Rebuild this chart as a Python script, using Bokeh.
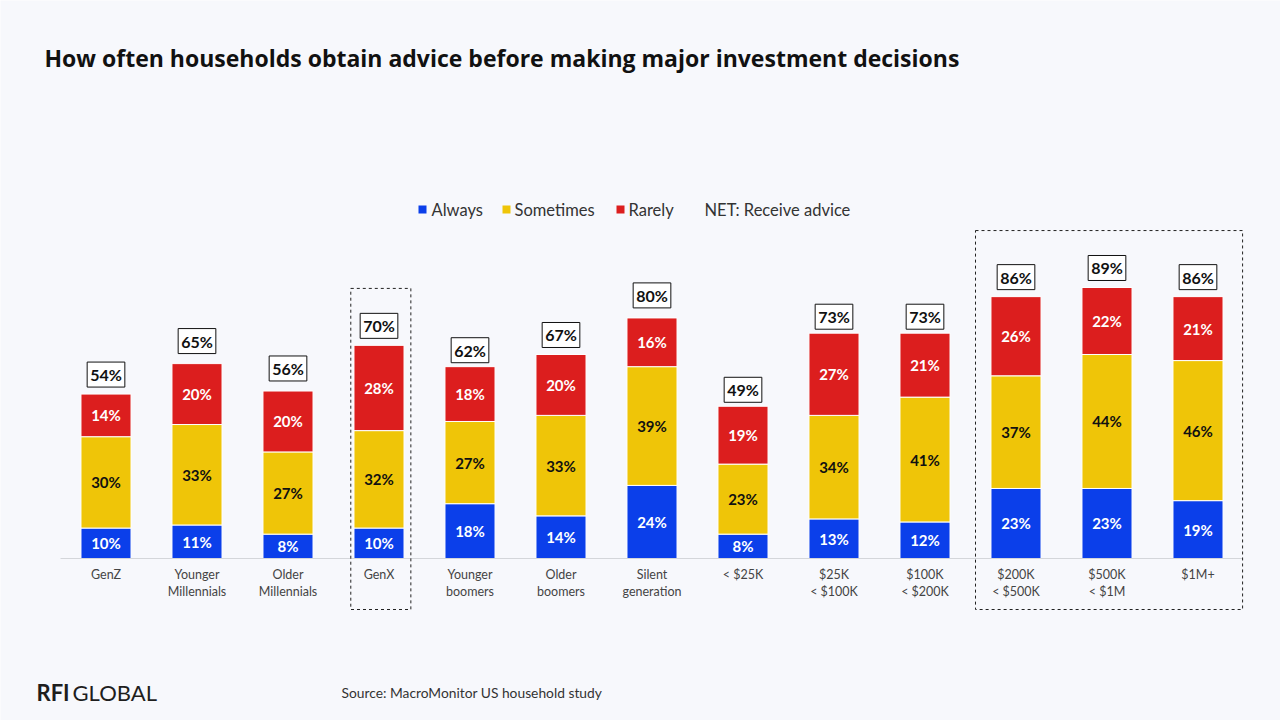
from bokeh.plotting import figure
from bokeh.models import ColumnDataSource, Range1d
from bokeh.core.properties import value
from bokeh.embed import file_html
from bokeh.resources import INLINE

# ---- data -------------------------------------------------------------
categories = ["GenZ", "Younger\nMillennials", "Older\nMillennials", "GenX",
              "Younger\nboomers", "Older\nboomers", "Silent\ngeneration",
              "< $25K", "$25K\n< $100K", "$100K\n< $200K",
              "$200K\n< $500K", "$500K\n< $1M", "$1M+"]
always = [10, 11, 8, 10, 18, 14, 24, 8, 13, 12, 23, 23, 19]
sometimes = [30, 33, 27, 32, 27, 33, 39, 23, 34, 41, 37, 44, 46]
rarely = [14, 20, 20, 28, 18, 20, 16, 19, 27, 21, 26, 22, 21]
net = [54, 65, 56, 70, 62, 67, 80, 49, 73, 73, 86, 89, 86]
series = ["Always", "Sometimes", "Rarely"]
highlight_groups = [[3], [10, 11, 12]]

# ---- styling ----------------------------------------------------------
BG = "#F7F8FC"
BLUE, YELLOW, RED = "#0B3FEA", "#EFC508", "#DC1E1E"
FONT = "Lato"
W, H = 1280, 720

# page geometry: the frame fills the page; x is the category index,
# y is the percentage value
X0, DX = 105.5, 91.0          # pixel centre of first bar, bar spacing
Y0, DY = 558.0, 3.045         # pixel baseline, pixels per percentage point


def px_x(px):
    return (px - X0) / DX


def px_y(py):
    return (Y0 - py) / DY


p = figure(width=W, height=H, output_backend="svg", toolbar_location=None,
           x_range=Range1d(px_x(0), px_x(W)), y_range=Range1d(px_y(H), px_y(0)),
           min_border=0, border_fill_color=BG, background_fill_color=BG)
p.axis.visible = False
p.grid.visible = False
p.outline_line_color = None

idx = list(range(len(categories)))
src = ColumnDataSource(dict(
    x=idx, Always=always, Sometimes=sometimes, Rarely=rarely, net=net,
    net_label=[f"{v}%" for v in net],
))

# stacked bars
p.vbar_stack(series, x="x", width=0.55, source=src,
             color=[BLUE, YELLOW, RED], line_color="white", line_width=1)

# segment labels
for vals, below, col in [(always, [0] * len(idx), "white"),
                         (sometimes, always, "#111111"),
                         (rarely, [a + s for a, s in zip(always, sometimes)], "white")]:
    p.text(x=idx, y=[b + v / 2 for b, v in zip(below, vals)],
           text=[f"{v}%" for v in vals], text_align="center",
           text_baseline="middle", text_font=value(FONT),
           text_font_style="bold", text_font_size="15px", text_color=col)

# NET labels in white boxes
p.text(x="x", y="net", text="net_label", source=src, text_align="center",
       text_baseline="bottom", y_offset=-7, text_font=value(FONT),
       text_font_style="bold", text_font_size="16px", text_color="#111111",
       background_fill_color="white", border_line_color="#111111",
       border_line_width=1, padding=3)

# baseline
p.segment(x0=[px_x(60)], x1=[px_x(1242)], y0=[0], y1=[0],
          line_color="#D4D6DA", line_width=1)

# category labels
p.text(x=idx, y=[px_y(566)] * len(idx), text=categories, text_align="center",
       text_baseline="top", text_font=value(FONT), text_font_size="12.5px",
       text_color="#444444", text_line_height=1.15)

# dashed highlight boxes
for grp in highlight_groups:
    top = max(net[i] for i in grp) + 18.7
    p.quad(left=[grp[0] - 0.31 if len(grp) == 1 else grp[0] - 0.445],
           right=[grp[-1] + 0.35 if len(grp) == 1 else grp[-1] + 0.49],
           top=[top], bottom=[px_y(609)], fill_alpha=0,
           line_color="#222222", line_width=1, line_dash="3 3")

# legend
leg_y = px_y(209)
for sq_px, txt_px, col, lab in [(422, 431, BLUE, "Always"),
                                (506, 514, YELLOW, "Sometimes"),
                                (620, 628, RED, "Rarely")]:
    p.scatter(x=[px_x(sq_px)], y=[leg_y], marker="square", size=8,
              color=col, line_color=None)
    p.text(x=[px_x(txt_px)], y=[leg_y], text=[lab], text_baseline="middle",
           text_font=value(FONT), text_font_size="16.5px", text_color="#333333")
p.text(x=[px_x(704)], y=[leg_y], text=["NET: Receive advice"],
       text_baseline="middle", text_font=value(FONT), text_font_size="16.5px",
       text_color="#333333")

# title
p.text(x=[px_x(44)], y=[px_y(57)], text=["How often households obtain advice before making major investment decisions"],
       text_baseline="middle", text_font=value("Open Sans"), text_font_style="bold",
       text_font_size="23px", text_color="#111111")

# footer: brand and source
p.text(x=[px_x(36)], y=[px_y(692)], text=["RFI"], text_baseline="middle",
       text_font=value(FONT), text_font_style="bold", text_font_size="22px",
       text_color="#1E1E1E")
p.text(x=[px_x(72)], y=[px_y(692)], text=["GLOBAL"], text_baseline="middle",
       text_font=value(FONT), text_font_size="22px", text_color="#1E1E1E")
p.text(x=[px_x(341)], y=[px_y(692)], text=["Source: MacroMonitor US household study"],
       text_baseline="middle", text_font=value(FONT), text_font_size="13.8px",
       text_color="#333333")

open("out.html", "w").write(file_html(p, INLINE))
